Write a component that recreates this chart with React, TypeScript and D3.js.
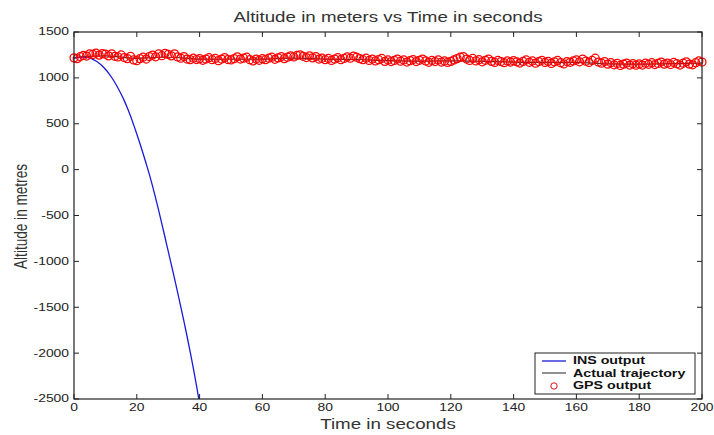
import React from "react";
import * as d3 from "d3";

const W = 714;
const H = 435;

const xTicks = [0, 20, 40, 60, 80, 100, 120, 140, 160, 180, 200];
const yTicks = [1500, 1000, 500, 0, -500, -1000, -1500, -2000, -2500];

const insTime = [0,1,2,3,4,5,6,7,8,9,10,11,12,13,14,15,16,17,18,19,20,21,22,23,24,25,26,27,28,29,30,31,32,33,34,35,36,37,38,39,40];
const insAlt = [1215,1221,1225,1226,1223,1214,1202,1184,1160,1130,1094,1052,1004,950,890,824,752,672,584,488,388,284,176,64,-52,-178,-310,-450,-594,-740,-888,-1036,-1186,-1338,-1494,-1652,-1816,-1986,-2164,-2352,-2550];

const trueTime = [0,3,6,10,15,20,25,30,40,50,60,70,80,90,100,110,120,130,140,150,160,170,180,190,200];
const trueAlt = [1218,1232,1238,1240,1225,1212,1222,1225,1205,1203,1205,1215,1205,1200,1188,1183,1185,1180,1172,1168,1170,1152,1150,1155,1160];

const gpsAlt = [
  1218,1210,1232,1245,1238,1262,1255,1270,1248,1265,
  1258,1240,1262,1235,1228,1250,1222,1210,1235,1195,
  1188,1210,1225,1205,1232,1248,1230,1262,1242,1268,
  1255,1240,1262,1228,1215,1232,1205,1198,1215,1200,
  1210,1192,1205,1220,1198,1212,1188,1205,1222,1200,
  1195,1210,1230,1205,1215,1225,1198,1185,1205,1192,
  1210,1198,1215,1225,1202,1218,1232,1210,1225,1240,
  1228,1245,1252,1235,1222,1240,1218,1232,1205,1215,
  1198,1212,1190,1205,1220,1198,1212,1228,1215,1238,
  1225,1210,1198,1215,1190,1205,1185,1198,1212,1180,
  1195,1178,1190,1205,1182,1195,1172,1188,1200,1178,
  1192,1205,1185,1170,1190,1178,1195,1172,1185,1168,
  1180,1195,1210,1225,1232,1205,1190,1212,1185,1198,
  1175,1192,1205,1180,1168,1190,1178,1165,1185,1172,
  1188,1175,1162,1180,1195,1170,1185,1160,1178,1192,
  1168,1180,1158,1175,1190,1165,1152,1178,1170,1185,
  1195,1175,1205,1182,1168,1190,1215,1172,1160,1178,
  1150,1165,1142,1158,1135,1150,1162,1140,1155,1138,
  1152,1140,1160,1148,1165,1145,1158,1172,1150,1162,
  1145,1168,1155,1140,1160,1175,1150,1142,1165,1185,
  1172
];

const legendLabels = ["INS output", "Actual trajectory", "GPS output"];

const SX = 1.32;
const FONT = "Arial, 'Liberation Sans', Helvetica, sans-serif";

function T({ x, y, size, anchor = "middle", weight = "normal", rotate = 0, fill = "#222", children }: any) {
  const tr = rotate
    ? `translate(${x},${y}) scale(${SX},1) rotate(${rotate})`
    : `translate(${x},${y}) scale(${SX},1)`;
  return (
    <text
      transform={tr}
      fontSize={size}
      fontFamily={FONT}
      fontWeight={weight}
      textAnchor={anchor}
      dominantBaseline="central"
      fill={fill}
    >
      {children}
    </text>
  );
}

export default function App() {
  const x = d3.scaleLinear().domain([0, 200]).range([74, 702]);
  const y = d3.scaleLinear().domain([-2500, 1500]).range([399, 32]);
  const [x0, x1] = x.range();
  const [y0, y1] = y.range();

  const smooth = d3
    .line<[number, number]>()
    .x((d) => x(d[0]))
    .y((d) => y(d[1]))
    .curve(d3.curveMonotoneX);

  const insPath = smooth(insTime.map((t, i) => [t, insAlt[i]]) as [number, number][]) || "";
  const truePath = smooth(trueTime.map((t, i) => [t, trueAlt[i]]) as [number, number][]) || "";

  const tickLen = 5;
  const axisColor = "#222";

  return (
    <svg
      width={W}
      height={H}
      style={{ position: "absolute", left: 0, top: 0, background: "#fff" }}
    >
      <defs>
        <clipPath id="plotClip">
          <rect x={x0} y={y1} width={x1 - x0} height={y0 - y1} />
        </clipPath>
      </defs>
      <rect x={0} y={0} width={W} height={H} fill="#fff" />

      <g clipPath="url(#plotClip)">
        <path d={truePath} fill="none" stroke="#333" strokeWidth={1.2} />
        <path d={insPath} fill="none" stroke="#1a1ad8" strokeWidth={1.3} />
      </g>
      <g>
        {gpsAlt.map((v, i) => (
          <circle
            key={i}
            cx={x(i)}
            cy={y(v)}
            r={4}
            fill="none"
            stroke="#f00"
            strokeWidth={1.25}
          />
        ))}
      </g>

      {/* box */}
      <rect x={x0} y={y1} width={x1 - x0} height={y0 - y1} fill="none" stroke={axisColor} strokeWidth={1.2} />

      {/* x ticks */}
      {xTicks.map((t) => (
        <g key={"xt" + t}>
          <line x1={x(t)} x2={x(t)} y1={y0} y2={y0 - tickLen} stroke={axisColor} />
          <line x1={x(t)} x2={x(t)} y1={y1} y2={y1 + tickLen} stroke={axisColor} />
          <T x={x(t)} y={408} size={10.5}>{t}</T>
        </g>
      ))}
      {/* y ticks */}
      {yTicks.map((t) => (
        <g key={"yt" + t}>
          <line x1={x0} x2={x0 + tickLen} y1={y(t)} y2={y(t)} stroke={axisColor} />
          <line x1={x1} x2={x1 - tickLen} y1={y(t)} y2={y(t)} stroke={axisColor} />
          <T x={69} y={y(t)} size={10.5} anchor="end">{t}</T>
        </g>
      ))}

      <T x={(x0 + x1) / 2} y={17} size={14.2} fill="#333">Altitude in meters vs Time in seconds</T>
      <T x={(x0 + x1) / 2} y={424} size={14.2} fill="#333">Time in seconds</T>
      <T x={21} y={(y0 + y1) / 2 + 1} size={13.6} rotate={-90} fill="#333">Altitude in metres</T>

      {/* legend */}
      <g>
        <rect x={535} y={353} width={160} height={41} fill="#fff" stroke={axisColor} strokeWidth={1} />
        <line x1={542} x2={566} y1={361} y2={361} stroke="#1a1ad8" strokeWidth={1.3} />
        <line x1={542} x2={566} y1={373} y2={373} stroke="#555" strokeWidth={1.3} />
        <circle cx={554} cy={386} r={3.2} fill="none" stroke="#e01010" strokeWidth={1} />
        {legendLabels.map((l, i) => (
          <T key={l} x={573} y={361 + i * 12.5} size={10.8} anchor="start" weight="bold" fill="#111">{l}</T>
        ))}
      </g>
    </svg>
  );
}
